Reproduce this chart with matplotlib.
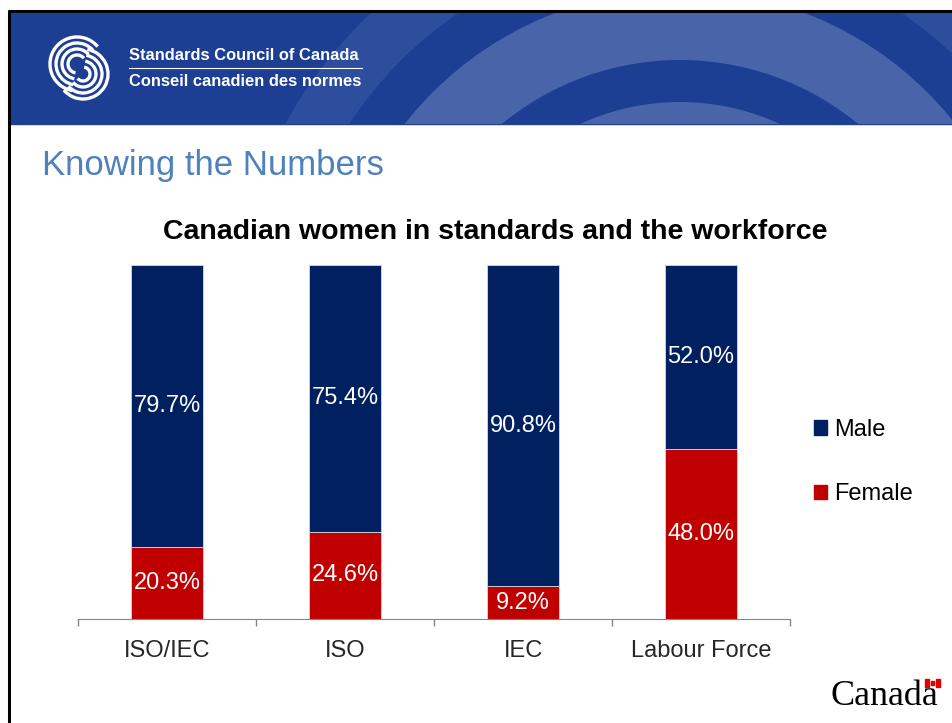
import matplotlib
matplotlib.use('Agg')
import matplotlib.pyplot as plt
from matplotlib.patches import Rectangle, Wedge, Arc, Patch

plt.rcParams['font.family'] = ['Liberation Sans', 'DejaVu Sans']

# data
categories = ['ISO/IEC', 'ISO', 'IEC', 'Labour Force']
female = [20.3, 24.6, 9.2, 48.0]
male = [79.7, 75.4, 90.8, 52.0]

W, H = 952, 723
fig = plt.figure(figsize=(W / 100, H / 100), dpi=100)

# slide background in pixel coordinates
bg = fig.add_axes([0, 0, 1, 1])
bg.set_xlim(0, W)
bg.set_ylim(H, 0)
bg.axis('off')

banner = Rectangle((10, 12), W - 10, 112, color='#1c3f94', zorder=1)
bg.add_patch(banner)
# big arcs in the banner
for r, w, a in [(450, 55, 0.08), (350, 70, 0.2), (238, 68, 0.2)]:
    wd = Wedge((680, 340), r, 0, 360, width=w, color='white', alpha=a, lw=0, zorder=2)
    bg.add_patch(wd)
    wd.set_clip_path(banner)

# logo swirl
for r in [27, 21, 15, 9]:
    bg.add_patch(Arc((77, 64), 2 * r, 2 * r, theta1=100, theta2=320, color='white', lw=2.4, zorder=3))
for r in [25, 19, 13, 7]:
    bg.add_patch(Arc((83, 74), 2 * r, 2 * r, theta1=280, theta2=140 + 360, color='white', lw=2.4, zorder=3))

bg.text(129, 55, 'Standards Council of Canada', color='white', fontsize=11.9, fontweight='bold',
        va='center', ha='left', zorder=3)
bg.plot([129, 362], [68, 68], color='white', lw=0.8, zorder=3)
bg.text(129, 82, 'Conseil canadien des normes', color='white', fontsize=11.9, fontweight='bold',
        va='center', ha='left', zorder=3)

# slide border
bg.plot([8, W], [11, 11], color='black', lw=2.2, zorder=4, solid_capstyle='butt')
bg.plot([9, 9], [10, H], color='black', lw=2.2, zorder=4, solid_capstyle='butt')

bg.text(42, 166, 'Knowing the Numbers', color='#4f81bd', fontsize=25, va='center', ha='left')
bg.text(495, 232, 'Canadian women in standards and the workforce', fontsize=20.5,
        fontweight='bold', color='black', va='center', ha='center')

# Canada wordmark
bg.text(830, 705, 'Canada', family=['Liberation Serif'], fontsize=26, color='black', va='baseline', ha='left')
bg.add_patch(Rectangle((925, 679), 15, 8, color='white', zorder=5))
bg.add_patch(Rectangle((925, 679), 4, 8, color='#e00000', zorder=5))
bg.add_patch(Rectangle((936, 679), 4, 8, color='#e00000', zorder=5))
bg.add_patch(Rectangle((931, 681), 3, 4, color='#e00000', zorder=5))

# chart
ax = fig.add_axes([78 / W, 1 - 619 / H, 712 / W, 354 / H])
ax.set_facecolor('none')
x = range(len(categories))
b1 = ax.bar(x, female, width=0.40, color='#c00000', edgecolor='#d9d9d9', linewidth=0.6, label='Female')
b2 = ax.bar(x, male, width=0.40, bottom=female, color='#002060', edgecolor='#d9d9d9', linewidth=0.6, label='Male')
ax.bar_label(b1, labels=[f'{v:.1f}%' for v in female], label_type='center', color='white', fontsize=17)
ax.bar_label(b2, labels=[f'{v:.1f}%' for v in male], label_type='center', color='white', fontsize=17)

ax.set_xlim(-0.5, 3.5)
ax.set_ylim(0, 100)
for s in ['top', 'right', 'left']:
    ax.spines[s].set_visible(False)
ax.spines['bottom'].set_color('#868686')
ax.set_yticks([])
ax.set_xticks(list(x))
ax.set_xticklabels(categories, fontsize=17, color='#262626')
ax.tick_params(axis='x', which='major', length=0, pad=15)
ax.set_xticks([-0.5, 0.5, 1.5, 2.5, 3.5], minor=True)
ax.tick_params(axis='x', which='minor', length=5, color='#868686', width=1)

handles = [Patch(color='#002060', label='Male'), Patch(color='#c00000', label='Female')]
fig.legend(handles=handles, loc='center left', bbox_to_anchor=(814 / W, 1 - 462 / H),
           frameon=False, fontsize=17, labelspacing=1.8, handlelength=0.55, handleheight=0.55,
           handletextpad=0.3, borderpad=0, borderaxespad=0)

fig.savefig('out.png', dpi=100)
